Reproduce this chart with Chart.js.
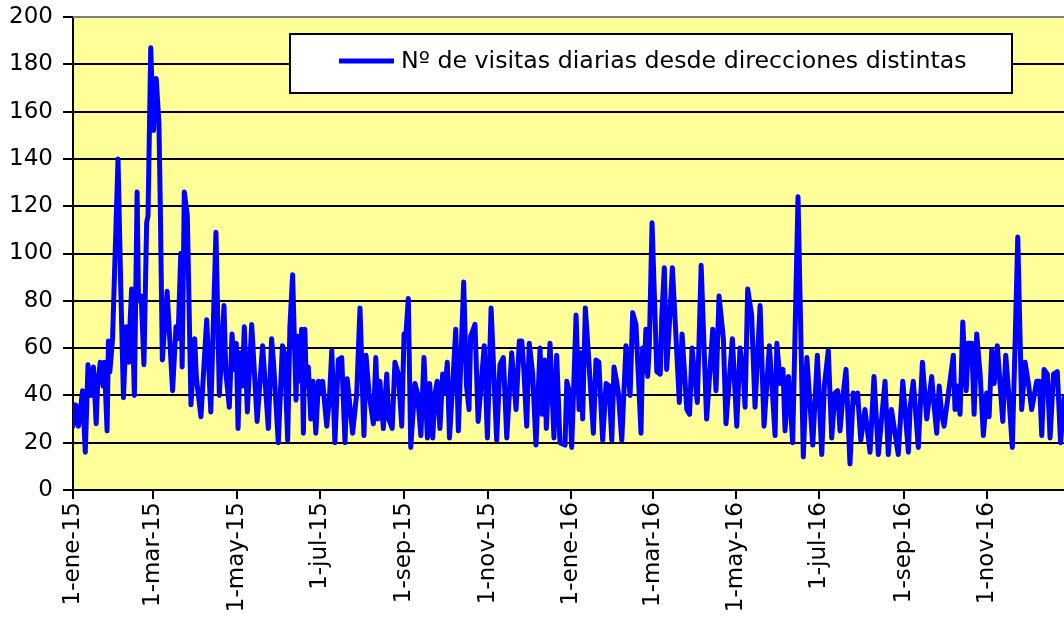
<!DOCTYPE html>
<html><head><meta charset="utf-8">
<script src="https://cdn.jsdelivr.net/npm/chart.js@4/dist/chart.umd.min.js"></script>
<style>html,body{margin:0;padding:0;background:#fff}#wrap{width:1064px;height:621px}</style>
</head><body><div id="wrap"><canvas id="c" width="1064" height="621"></canvas></div>
<script>
const seriesLabel = 'Nº de visitas diarias desde direcciones distintas';
const tickDays = [0, 59, 120, 181, 243, 304, 365, 425, 486, 547, 609, 670];
const tickLabels = ['1-ene-15','1-mar-15','1-may-15','1-jul-15','1-sep-15','1-nov-15','1-ene-16','1-mar-16','1-may-16','1-jul-16','1-sep-16','1-nov-16'];
const yTicks = [0,20,40,60,80,100,120,140,160,180,200];
// day offset from 1-ene-15
const dayIndex = [
0,2,4,7,9,11,13,15,17,18,20,22,23,25,26,27,29,33,35,37,39,41,42,43,45,47,48,50,52,54,55,57,59,61,63,64,65.5,
69,73,75.5,77,79,80,81.6,83.8,86.5,89.2,90.5,93.8,98,101,104.8,107.3,110.7,112,114.6,116.6,118,119.7,121,122.5,124,125.6,127.8,
131,135,139,143.2,145.6,147,150.5,153.5,155,157.4,159,161,163.5,164.5,165.5,167.6,168.9,170,171,172.5,174.3,176,178,180,182,183,186,188,189.7,192,194.5,
197,199.4,201,205,208,210.4,213.3,214.8,217,220.2,222,223.5,225,227.5,230,231.5,234,236,238.5,241,242.7,244,245.8,247.6,250.7,252.5,255,257.3,259.8,261.5,
263.7,265.5,267,269,271,272.5,274.4,276,278.5,280.6,282.5,286.4,288.5,290.3,291.5,294.7,297,301.5,303.8,306.5,310.6,313,315.5,318,321.6,324.8,327.2,
329,330.5,332.6,334.5,337,339.4,342.4,344,345.8,347,349.7,352.6,354.6,357,360.7,362,364,365.6,368.8,371,372.5,373.6,375.6,378,381.5,383.4,385.5,388.3,390.8,393,
395,396.6,398.5,399.8,402.3,405.4,408.4,410.3,412.7,416.4,417.6,418.8,420,421.3,422.5,424.5,428,430.5,431.6,433.5,435.2,437.2,439.4,441.4,444.5,446.5,450,452,453.8,457.7,460.5,
464.5,469,471.4,473.6,476.8,478.7,483.4,486.6,489,491.5,492.7,494.6,497.5,500,503.7,506.6,510.5,512.2,514.7,516,518.5,520.5,522,524.5,
527.6,531.5,535.4,538,542.3,545.7,548.9,550.8,553.7,556.2,558.6,560.6,562.3,564.3,566.7,569.6,572,573.7,575.2,577.5,580.6,584.3,587.2,590.4,
595.3,597.7,600,605,608.3,612.4,613.7,616,619.7,622.7,625.9,629.5,630.7,633.2,635,636.8,638.6,641.8,645.4,646.6,648.3,650.3,652.3,654.8,656.4,
658.9,660.6,662.5,665,667.4,669.8,671.6,673.5,675.3,677.6,681.6,683.8,685.8,688.6,690.6,692.6,695.5,698,700.4,702.8,706.5,708.5,710.2,711.9,714.3,716.3,718.8,721.6,724,726.5
];
const visits = [
27,36,27,42,16,53,40,52,28,44,54,44,54,25,63,50,64,140,86,39,69,54,73,85,40,126,80,82,53,113,116,187,152,174,155,120,55,
84,42,69,64,100,52,126,116,36,64,47,31,72,33,109,40,78,50,35,66,51,62,26,58,44,69,33,
70,29,61,26,64,54,20,61,58,21,69,91,38,65,46,68,24,68,44,52,30,46,24,46,41,46,27,39,59,20,55,
56,20,47,24,41,77,23,57,41,28,56,30,46,26,49,30,26,54,49,27,66,65,81,18,45,41,23,56,22,45,
22,41,46,26,49,41,54,22,46,68,25,88,44,34,65,70,29,61,22,77,21,53,56,22,58,34,63,
63,51,27,62,49,19,60,32,55,26,62,22,57,20,19,46,41,18,74,34,58,30,77,56,24,55,54,21,45,44,
21,52,46,41,21,61,40,75,70,24,60,50,68,48,61,113,50,49,73,94,51,70,94,72,37,66,34,32,60,37,95,
30,68,42,82,64,28,64,27,60,48,35,85,74,35,78,27,61,46,23,62,45,51,25,48,
20,124,14,56,19,57,15,44,59,22,41,42,25,39,51,11,41,37,41,21,34,16,48,15,
46,15,34,15,46,16,35,46,18,54,30,48,39,24,44,32,27,41,57,34,44,32,71,42,62,
62,32,66,49,23,41,31,59,45,61,29,57,42,18,61,107,34,54,45,34,46,46,23,51,49,22,49,50,20,39
];
const points = dayIndex.map((d, i) => ({x: d, y: visits[i]}));

Chart.defaults.font.family = 'DejaVu Sans';
Chart.defaults.font.size = 23;
Chart.defaults.color = '#000';

const plotDeco = {
  id: 'plotDeco',
  beforeDraw(chart) {
    const {ctx, chartArea: a} = chart;
    ctx.save();
    ctx.fillStyle = '#FFFF99';
    ctx.fillRect(a.left, a.top, a.right - a.left, a.bottom - a.top);
    ctx.restore();
  },
  afterDraw(chart) {
    const {ctx, chartArea: a} = chart;
    ctx.save();
    ctx.strokeStyle = '#808080';
    ctx.lineWidth = 2;
    ctx.beginPath();
    ctx.moveTo(a.left, a.top);
    ctx.lineTo(a.right, a.top);
    ctx.stroke();
    // legend box
    const bx = 290, by = 34, bw = 722, bh = 59;
    ctx.fillStyle = '#fff';
    ctx.fillRect(bx, by, bw, bh);
    ctx.strokeStyle = '#000';
    ctx.lineWidth = 2;
    ctx.strokeRect(bx, by, bw, bh);
    const ds = chart.data.datasets[0];
    ctx.strokeStyle = ds.borderColor;
    ctx.lineWidth = 5;
    ctx.beginPath();
    ctx.moveTo(339, 61);
    ctx.lineTo(394, 61);
    ctx.stroke();
    ctx.fillStyle = '#000';
    ctx.font = '23.7px "DejaVu Sans"';
    ctx.textBaseline = 'middle';
    ctx.textAlign = 'left';
    ctx.fillText(ds.label, 401, 62);
    ctx.restore();
  }
};

new Chart(document.getElementById('c'), {
  type: 'line',
  data: { datasets: [{
    label: seriesLabel,
    data: points,
    borderColor: '#0000FF',
    borderWidth: 5,
    borderJoinStyle: 'round',
    borderCapStyle: 'round',
    pointRadius: 0,
    tension: 0,
    fill: false
  }]},
  options: {
    responsive: false,
    animation: false,
    devicePixelRatio: 1,
    layout: { padding: { top: 17, right: 0, left: 0, bottom: 0 } },
    plugins: { legend: { display: false }, tooltip: { enabled: false } },
    scales: {
      x: {
        type: 'linear',
        min: 0,
        max: 726.5,
        afterBuildTicks(s) { s.ticks = tickDays.map(v => ({value: v})); },
        afterFit(s) { s.height = 131; s.paddingLeft = 0; s.paddingRight = 0; },
        ticks: {
          autoSkip: false,
          minRotation: 90,
          maxRotation: 90,
          padding: 3,
          callback: (v, i) => tickLabels[i]
        },
        grid: { drawOnChartArea: false, drawTicks: true, tickLength: 9, color: '#000', lineWidth: 2 },
        border: { display: true, color: '#000', width: 2 }
      },
      y: {
        min: 0,
        max: 200,
        afterBuildTicks(s) { s.ticks = yTicks.map(v => ({value: v})); },
        afterFit(s) { s.width = 73; s.paddingTop = 0; s.paddingBottom = 0; },
        ticks: { padding: 10 },
        grid: { color: '#000', lineWidth: 2, drawTicks: true, tickLength: 10, tickColor: '#000' },
        border: { display: true, color: '#000', width: 2 }
      }
    }
  },
  plugins: [plotDeco]
});
</script>
</body></html>
